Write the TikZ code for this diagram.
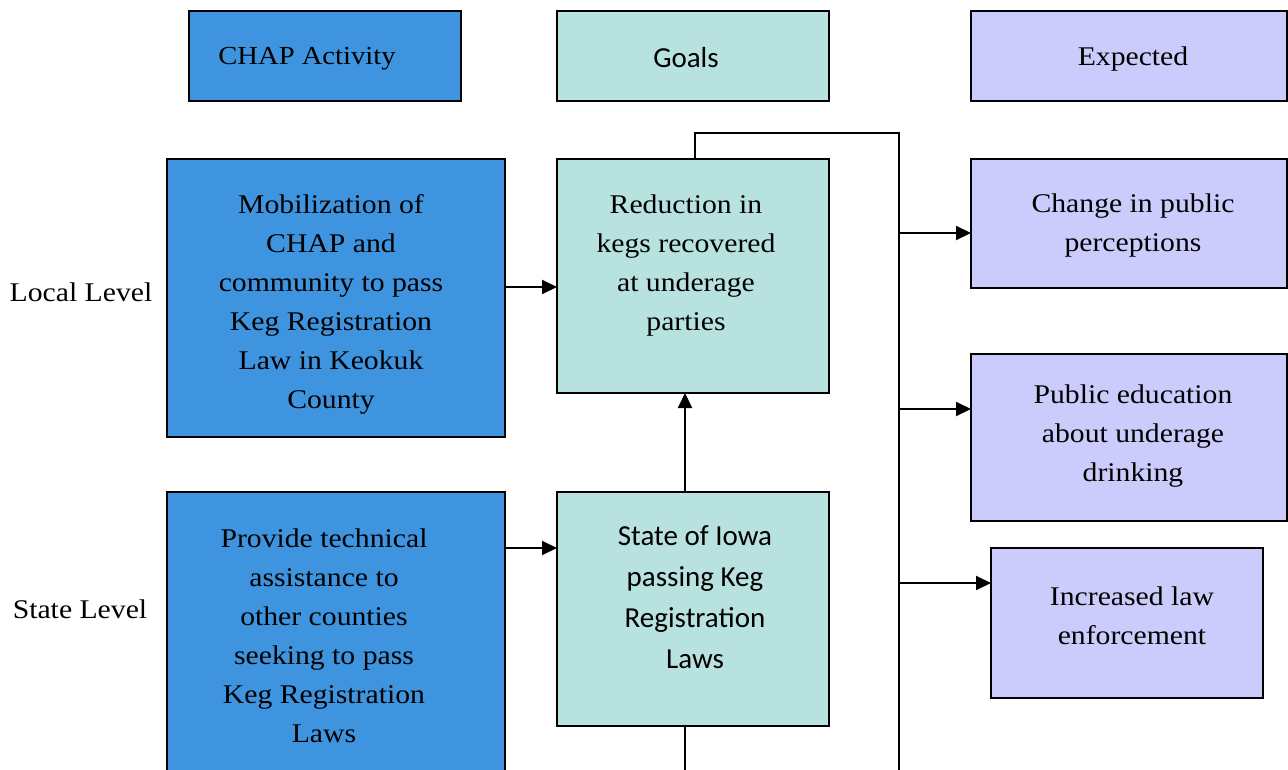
\documentclass[tikz,border=0pt]{standalone}
\usepackage{fontspec}
\setmainfont[FakeStretch=1.1]{Liberation Serif}
\newfontfamily\calib{Carlito}
\usetikzlibrary{arrows.meta,calc}
\definecolor{cblue}{RGB}{62,148,222}
\definecolor{cteal}{RGB}{184,226,223}
\definecolor{clav}{RGB}{204,204,252}
\begin{document}
\begin{tikzpicture}[x=1pt,y=-1pt,
  box/.style={draw=black,line width=2pt,inner sep=0pt,outer sep=0pt},
  txt/.style={align=center,inner sep=0pt,font=\fontsize{27}{39}\selectfont},
  stxt/.style={align=center,inner sep=0pt,font=\calib\fontsize{29}{41}\selectfont},
  arr/.style={line width=2pt,-{Triangle[length=15pt,width=14pt]}},
  ln/.style={line width=2pt}]
\useasboundingbox (0,0) rectangle (1288,770);
% header boxes
\node[box,fill=cblue,minimum width=272,minimum height=90] (h1) at (325,56) {};
\node[box,fill=cteal,minimum width=272,minimum height=90] (h2) at (693,56) {};
\node[box,fill=clav,minimum width=316,minimum height=90] (h3) at (1129,56) {};
\node[txt,font=\fontsize{26}{39}\selectfont] (t1) at (307,59) {CHAP Activity};
\node[stxt] (t2) at (686,58) {Goals};
\node[txt] (t3) at (1133,59) {Expected};
% level labels
\node[txt] (ll) at (81,292) {Local Level};
\node[txt] (sl) at (80,609) {State Level};
% main boxes
\node[box,fill=cblue,minimum width=338,minimum height=278] (mob) at (336,298) {};
\node[box,fill=cteal,minimum width=272,minimum height=234] (red) at (693,276) {};
\node[box,fill=clav,minimum width=316,minimum height=129] (chg) at (1129,223.5) {};
\node[box,fill=clav,minimum width=316,minimum height=167] (pub) at (1129,437.5) {};
\node[box,fill=clav,minimum width=272,minimum height=150] (inc) at (1127,623) {};
\node[box,fill=cblue,minimum width=338,minimum height=308] (prov) at (336,646) {};
\node[box,fill=cteal,minimum width=272,minimum height=234] (state) at (693,609) {};
% texts
\node[txt] (tm) at (331,304.5) {Mobilization of\\CHAP and\\community to pass\\Keg Registration\\Law in Keokuk\\County};
\node[txt] (tr) at (686,265.5) {Reduction in\\kegs recovered\\at underage\\parties};
\node[txt] (tc) at (1133,225.5) {Change in public\\perceptions};
\node[txt] (tp) at (1133,436.5) {Public education\\about underage\\drinking};
\node[txt] (ti) at (1132,615.5) {Increased law\\enforcement};
\node[txt] (tv) at (324,636) {Provide technical\\assistance to\\other counties\\seeking to pass\\Keg Registration\\Laws};
\node[stxt] (ts) at (695,597.5) {State of Iowa\\passing Keg\\Registration\\Laws};
% connectors
\coordinate (top1) at (695,133);
\coordinate (top2) at (899,133);
\coordinate (bus) at (899,775);
\coordinate (bot) at (685,775);
\draw[arr] (mob.east |- 0,287) -- (red.west |- 0,287);
\draw[arr] (prov.east |- 0,548) -- (state.west |- 0,548);
\draw[arr] (state.north -| 685,0) -- (red.south -| 685,0);
\draw[ln] (state.south -| bot) -- (bot);
\draw[ln] (red.north -| top1) -- (top1) -- (top2) -- (bus);
\draw[arr] (899,233) -- (chg.west |- 0,233);
\draw[arr] (899,409) -- (pub.west |- 0,409);
\draw[arr] (899,583) -- (inc.west |- 0,583);
\end{tikzpicture}
\end{document}
